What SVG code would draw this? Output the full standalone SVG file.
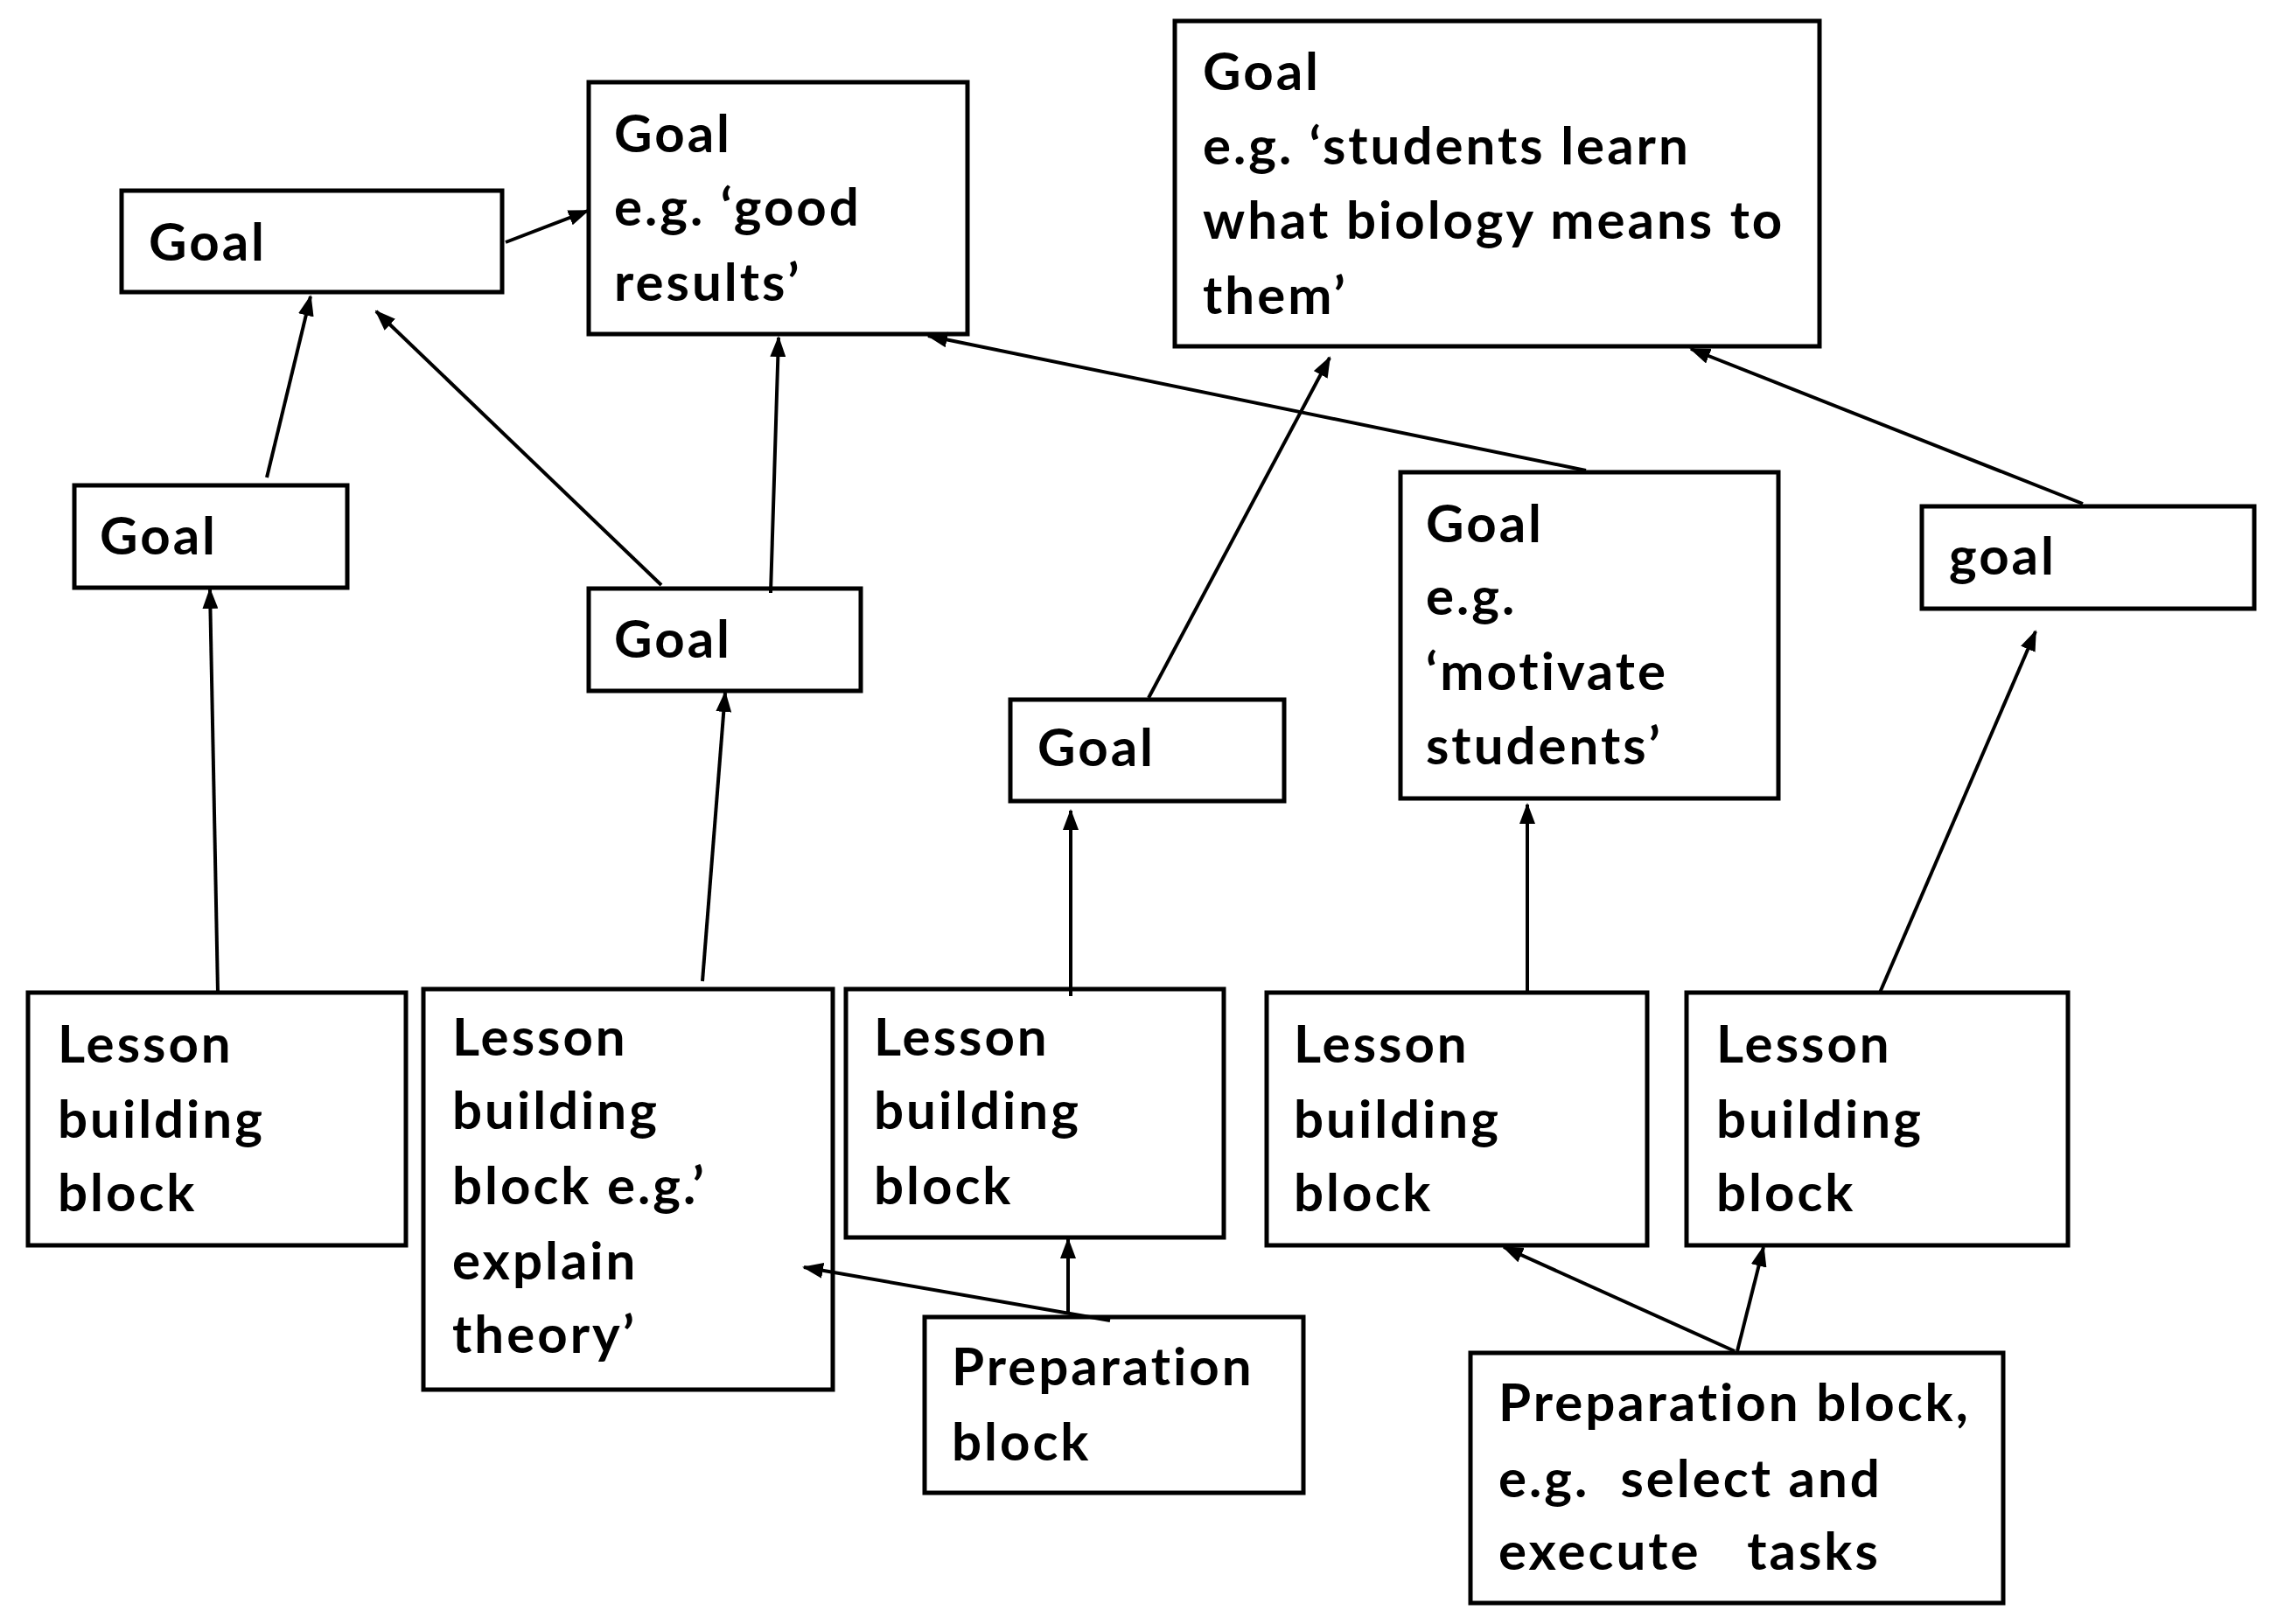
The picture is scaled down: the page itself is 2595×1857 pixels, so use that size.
<svg xmlns="http://www.w3.org/2000/svg" width="2595" height="1857" viewBox="0 0 2595 1857">
<style>
.box{fill:#fff;stroke:#000;stroke-width:5}
.t{font-family:Lato,"Open Sans","Liberation Sans",sans-serif;font-weight:bold;font-size:60px;letter-spacing:3px;fill:#000}
.c{stroke:#000;stroke-width:4;fill:none;marker-end:url(#ah)}
</style>
<defs>
<marker id="ah" markerUnits="userSpaceOnUse" markerWidth="24" markerHeight="18" refX="22" refY="9" orient="auto">
<path d="M0,0 L24,9 L0,18 Z" fill="#000"/>
</marker>
</defs>
<rect width="2595" height="1857" fill="#fff"/>
<g id="goalA"><rect class="box" x="139" y="218" width="435" height="116"/><text class="t" x="170" y="298">Goal</text></g>
<g id="goalB"><rect class="box" x="673" y="94" width="433" height="288"/><text class="t" x="702"><tspan x="702" y="174">Goal</tspan><tspan x="702" y="258">e.g. ‘good</tspan><tspan x="702" y="344">results’</tspan></text></g>
<g id="goalC"><rect class="box" x="1343" y="24" width="737" height="372"/><text class="t"><tspan x="1375" y="103">Goal</tspan><tspan x="1375" y="188">e.g. ‘students learn</tspan><tspan x="1375" y="273">what biology means to</tspan><tspan x="1375" y="359">them’</tspan></text></g>
<g id="goalD"><rect class="box" x="85" y="555" width="312" height="117"/><text class="t" x="114" y="634">Goal</text></g>
<g id="goalE"><rect class="box" x="673" y="673" width="311" height="117"/><text class="t" x="702" y="752">Goal</text></g>
<g id="goalF"><rect class="box" x="1155" y="800" width="313" height="116"/><text class="t" x="1186" y="876">Goal</text></g>
<g id="goalG"><rect class="box" x="1601" y="540" width="432" height="373"/><text class="t"><tspan x="1630" y="620">Goal</tspan><tspan x="1630" y="703">e.g.</tspan><tspan x="1630" y="789">‘motivate</tspan><tspan x="1630" y="874">students’</tspan></text></g>
<g id="goalH"><rect class="box" x="2197" y="579" width="380" height="117"/><text class="t" x="2228" y="657">goal</text></g>
<g id="lesson1"><rect class="box" x="32" y="1135" width="432" height="289"/><text class="t"><tspan x="66" y="1215">Lesson</tspan><tspan x="66" y="1301">building</tspan><tspan x="66" y="1385">block</tspan></text></g>
<g id="lesson2"><rect class="box" x="484" y="1131" width="468" height="458"/><text class="t"><tspan x="517" y="1207">Lesson</tspan><tspan x="517" y="1291">building</tspan><tspan x="517" y="1377">block e.g.’</tspan><tspan x="517" y="1463">explain</tspan><tspan x="517" y="1547">theory’</tspan></text></g>
<g id="lesson3"><rect class="box" x="967" y="1131" width="432" height="284"/><text class="t"><tspan x="999" y="1207">Lesson</tspan><tspan x="999" y="1291">building</tspan><tspan x="999" y="1377">block</tspan></text></g>
<g id="lesson4"><rect class="box" x="1448" y="1135" width="435" height="289"/><text class="t"><tspan x="1479" y="1215">Lesson</tspan><tspan x="1479" y="1301">building</tspan><tspan x="1479" y="1385">block</tspan></text></g>
<g id="lesson5"><rect class="box" x="1928" y="1135" width="436" height="289"/><text class="t"><tspan x="1962" y="1215">Lesson</tspan><tspan x="1962" y="1301">building</tspan><tspan x="1962" y="1385">block</tspan></text></g>
<g id="prep1"><rect class="box" x="1057" y="1506" width="433" height="201"/><text class="t"><tspan x="1088" y="1584">Preparation</tspan><tspan x="1088" y="1670">block</tspan></text></g>
<g id="prep2"><rect class="box" x="1681" y="1547" width="609" height="286"/><text class="t" xml:space="preserve"><tspan x="1713" y="1625">Preparation block,</tspan><tspan x="1713" y="1712">e.g.  select and</tspan><tspan x="1713" y="1795">execute   tasks</tspan></text></g>
<g id="connectors">
<line class="c" x1="578" y1="277" x2="672" y2="241"/>
<line class="c" x1="305" y1="546" x2="355" y2="339"/>
<line class="c" x1="756" y1="669" x2="430" y2="356"/>
<line class="c" x1="881" y1="678" x2="890" y2="386"/>
<line class="c" x1="1813" y1="538" x2="1061" y2="384"/>
<line class="c" x1="1313" y1="798" x2="1520" y2="409"/>
<line class="c" x1="2381" y1="576" x2="1933" y2="399"/>
<line class="c" x1="249" y1="1135" x2="240" y2="674"/>
<line class="c" x1="803" y1="1122" x2="829" y2="792"/>
<line class="c" x1="1224" y1="1139" x2="1224" y2="927"/>
<line class="c" x1="1746" y1="1135" x2="1746" y2="920"/>
<line class="c" x1="2149" y1="1135" x2="2327" y2="722"/>
<line class="c" x1="1269" y1="1510" x2="919" y2="1449"/>
<line class="c" x1="1221" y1="1501" x2="1221" y2="1417"/>
<line class="c" x1="1983" y1="1545" x2="1719" y2="1426"/>
<line class="c" x1="1986" y1="1545" x2="2016" y2="1426"/>
</g>
</svg>
